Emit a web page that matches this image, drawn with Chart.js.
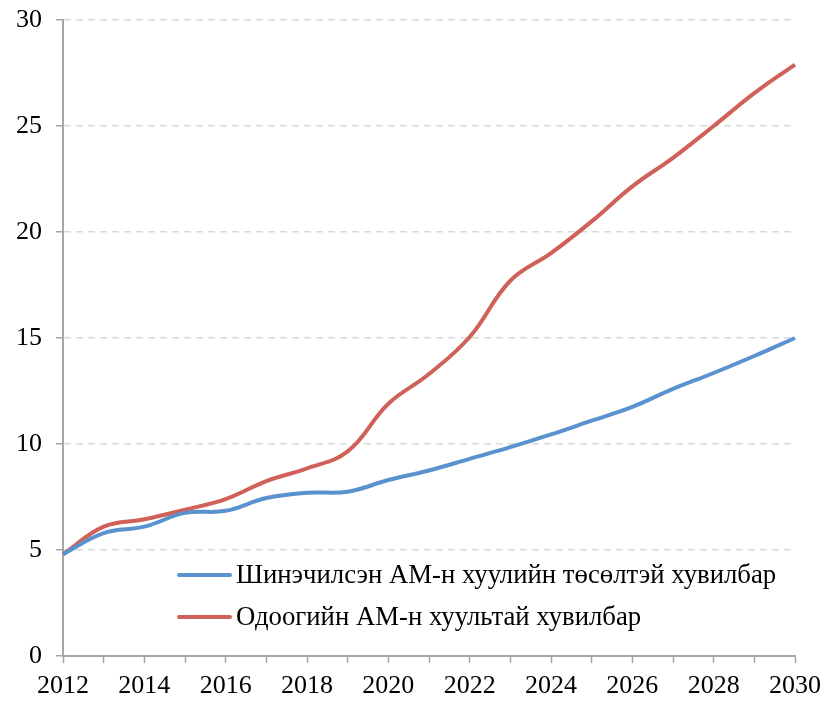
<!DOCTYPE html>
<html>
<head>
<meta charset="utf-8">
<script src="https://cdn.jsdelivr.net/npm/chart.js@4/dist/chart.umd.min.js"></script>
<style>
  html, body { margin: 0; padding: 0; background: #fff; }
  #wrap { width: 825px; height: 704px; position: relative; }
</style>
</head>
<body>
<div id="wrap"><canvas id="chart"></canvas></div>
<script>
// Years on the x axis
const years = [2012, 2013, 2014, 2015, 2016, 2017, 2018, 2019, 2020, 2021,
               2022, 2023, 2024, 2025, 2026, 2027, 2028, 2029, 2030];

// Series values
const newLawValues = [4.8, 5.8, 6.1, 6.75, 6.85, 7.45, 7.7, 7.75, 8.3, 8.75,
                      9.3, 9.85, 10.45, 11.1, 11.75, 12.6, 13.35, 14.15, 15.0];
const currentLawValues = [4.8, 6.1, 6.45, 6.9, 7.4, 8.25, 8.85, 9.65, 11.9, 13.3,
                          15.05, 17.7, 19.0, 20.5, 22.15, 23.5, 25.0, 26.55, 27.9];

const seriesLabels = ['Шинэчилсэн АМ-н хуулийн төсөлтэй хувилбар', 'Одоогийн АМ-н хуультай хувилбар'];
const yTicks = [0, 5, 10, 15, 20, 25, 30];

const FONT = "'Liberation Serif', 'Times New Roman', serif";
const AXIS_GRAY = '#A6A6A6';

// Legend drawn inside the plot area, like the original
const innerLegend = {
    id: 'innerLegend',
    afterDatasetsDraw(chart) {
        const ctx = chart.ctx;
        const rows = [575, 617];
        ctx.save();
        ctx.font = '26.75px ' + FONT;
        ctx.textBaseline = 'middle';
        ctx.textAlign = 'left';
        chart.data.datasets.forEach((ds, i) => {
            const y = rows[i];
            ctx.strokeStyle = ds.borderColor;
            ctx.lineWidth = ds.borderWidth;
            ctx.lineCap = 'round';
            ctx.beginPath();
            ctx.moveTo(179, y);
            ctx.lineTo(230, y);
            ctx.stroke();
            ctx.fillStyle = '#000';
            ctx.fillText(ds.label, 236, y + 1);
        });
        ctx.restore();
    }
};

new Chart(document.getElementById('chart'), {
    type: 'line',
    data: {
        labels: years,
        datasets: [
            {
                label: seriesLabels[0],
                data: newLawValues,
                borderColor: '#5A92CF',
                borderWidth: 4,
                pointRadius: 0,
                tension: 0.4,
                fill: false
            },
            {
                label: seriesLabels[1],
                data: currentLawValues,
                borderColor: '#CF6158',
                borderWidth: 4,
                pointRadius: 0,
                tension: 0.4,
                fill: false
            }
        ]
    },
    options: {
        responsive: true,
        maintainAspectRatio: false,
        animation: false,
        layout: { padding: { top: 20, right: 30, left: 0, bottom: 0 } },
        plugins: {
            legend: { display: false },
            tooltip: { enabled: false }
        },
        scales: {
            x: {
                type: 'category',
                offset: false,
                grid: {
                    drawOnChartArea: false,
                    drawTicks: true,
                    tickLength: 7,
                    tickColor: AXIS_GRAY,
                    tickWidth: 1.5
                },
                border: { display: true, color: AXIS_GRAY, width: 2 },
                ticks: {
                    autoSkip: false,
                    maxRotation: 0,
                    padding: 8,
                    color: '#000',
                    font: { family: FONT, size: 26 },
                    callback: function (value, index) {
                        const yr = years[index];
                        return yr % 2 === 0 ? String(yr) : '';
                    }
                },
                afterFit(scale) {
                    scale.height = 48;
                    scale.paddingLeft = 0;
                    scale.paddingRight = 0;
                }
            },
            y: {
                min: 0,
                max: 30,
                afterBuildTicks(scale) {
                    scale.ticks = yTicks.map(v => ({ value: v }));
                },
                grid: {
                    color: ctx => (ctx.tick && ctx.tick.value === 0) ? 'rgba(0,0,0,0)' : '#D9D9D9',
                    lineWidth: 1.5,
                    drawTicks: true,
                    tickLength: 7,
                    tickColor: AXIS_GRAY,
                    tickWidth: 1.5
                },
                border: { display: true, color: AXIS_GRAY, width: 2, dash: [7, 5] },
                ticks: {
                    padding: 14,
                    color: '#000',
                    font: { family: FONT, size: 26 }
                },
                afterFit(scale) {
                    scale.width = 63;
                    scale.paddingTop = 0;
                    scale.paddingBottom = 0;
                }
            }
        }
    },
    plugins: [innerLegend]
});
</script>
</body>
</html>
